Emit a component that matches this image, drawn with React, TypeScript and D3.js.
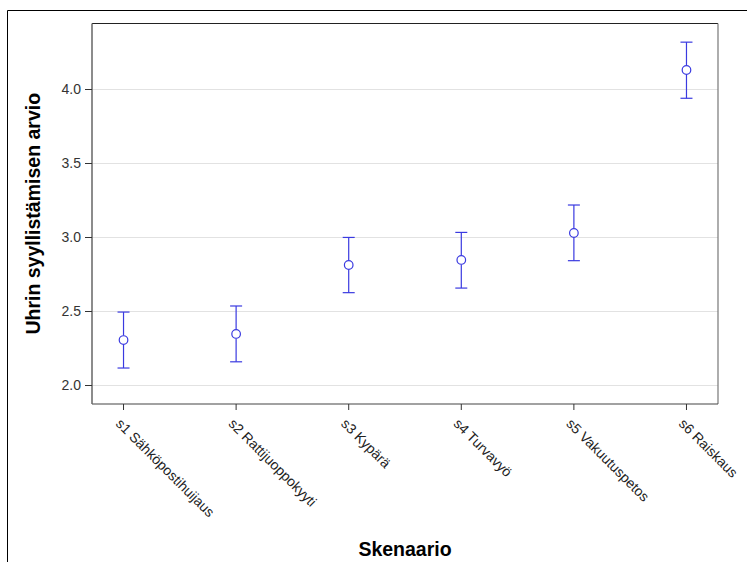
import React from "react";
import * as d3 from "d3";

const categories = [
  "s1 Sähköpostihuijaus",
  "s2 Rattijuoppokyyti",
  "s3 Kypärä",
  "s4 Turvavyö",
  "s5 Vakuutuspetos",
  "s6 Raiskaus",
];
const means = [2.304, 2.345, 2.811, 2.845, 3.027, 4.128];
const upper = [2.493, 2.534, 2.997, 3.031, 3.216, 4.316];
const lower = [2.115, 2.157, 2.624, 2.655, 2.84, 3.937];
const yTicks = [2.0, 2.5, 3.0, 3.5, 4.0];

const W = 747;
const H = 562;
const left = 92;
const right = 718;
const top = 23.5;
const bottom = 404;
const color = "#3a3ae0";
const font = "Liberation Sans, Arial, sans-serif";

export default function App() {
  const x = d3.scalePoint<string>().domain(categories).range([left, right]).padding(0.28);
  const y = d3.scaleLinear().domain([1.872, 4.442]).range([bottom, top]);

  return (
    <svg
      width={W}
      height={H}
      style={{ position: "absolute", left: 0, top: 0, background: "#fff" }}
      fontFamily={font}
    >
      <rect x={0} y={0} width={W} height={H} fill="#fff" />
      {/* outer frame */}
      <line x1={7.5} y1={10.5} x2={W} y2={10.5} stroke="#000" strokeWidth={1} />
      <line x1={7.5} y1={10.5} x2={7.5} y2={H} stroke="#000" strokeWidth={1} />

      {/* gridlines */}
      {yTicks.map((t) => (
        <line
          key={"g" + t}
          x1={left}
          x2={right}
          y1={Math.round(y(t)) + 0.5}
          y2={Math.round(y(t)) + 0.5}
          stroke="#e2e2e2"
          strokeWidth={1}
        />
      ))}

      {/* plot frame */}
      <line x1={left} y1={top} x2={right} y2={top} stroke="#222" strokeWidth={1} />
      <line x1={right} y1={top} x2={right} y2={bottom} stroke="#777" strokeWidth={1.2} />
      <line x1={left} y1={bottom} x2={right} y2={bottom} stroke="#444" strokeWidth={1.2} />
      <line x1={left} y1={top} x2={left} y2={bottom} stroke="#666" strokeWidth={1.5} />

      {/* y ticks */}
      {yTicks.map((t) => (
        <g key={"t" + t} transform={`translate(0,${Math.round(y(t)) + 0.5})`}>
          <line x1={left - 7} x2={left} stroke="#333" strokeWidth={1} />
          <text x={left - 11} dy="0.35em" textAnchor="end" fontSize={14} fill="#333">
            {d3.format(".1f")(t)}
          </text>
        </g>
      ))}

      {/* x ticks */}
      {categories.map((c) => (
        <g key={"x" + c} transform={`translate(${x(c)},0)`}>
          <line y1={bottom} y2={bottom + 6} stroke="#333" strokeWidth={1} />
          <text
            transform={`translate(-5,${bottom + 17}) rotate(45)`}
            textAnchor="start"
            dy="0.35em"
            fontSize={14}
            fill="#222"
          >
            {c}
          </text>
        </g>
      ))}

      {/* error bars */}
      {categories.map((c, i) => {
        const cx = x(c) as number;
        return (
          <g key={"e" + c} stroke={color} strokeWidth={1.2} fill="none">
            <line x1={cx} x2={cx} y1={y(upper[i])} y2={y(means[i]) - 4.5} />
            <line x1={cx} x2={cx} y1={y(means[i]) + 4.5} y2={y(lower[i])} />
            <line x1={cx - 6} x2={cx + 6} y1={y(upper[i])} y2={y(upper[i])} />
            <line x1={cx - 6} x2={cx + 6} y1={y(lower[i])} y2={y(lower[i])} />
            <circle cx={cx} cy={y(means[i])} r={4.3} />
          </g>
        );
      })}

      {/* axis titles */}
      <text
        x={(left + right) / 2}
        y={556}
        textAnchor="middle"
        fontSize={19.5}
        fontWeight="bold"
        fill="#000"
      >
        Skenaario
      </text>
      <text
        transform={`translate(40,${(top + bottom) / 2}) rotate(-90)`}
        textAnchor="middle"
        fontSize={19.5}
        fontWeight="bold"
        fill="#000"
      >
        Uhrin syyllistämisen arvio
      </text>
    </svg>
  );
}
